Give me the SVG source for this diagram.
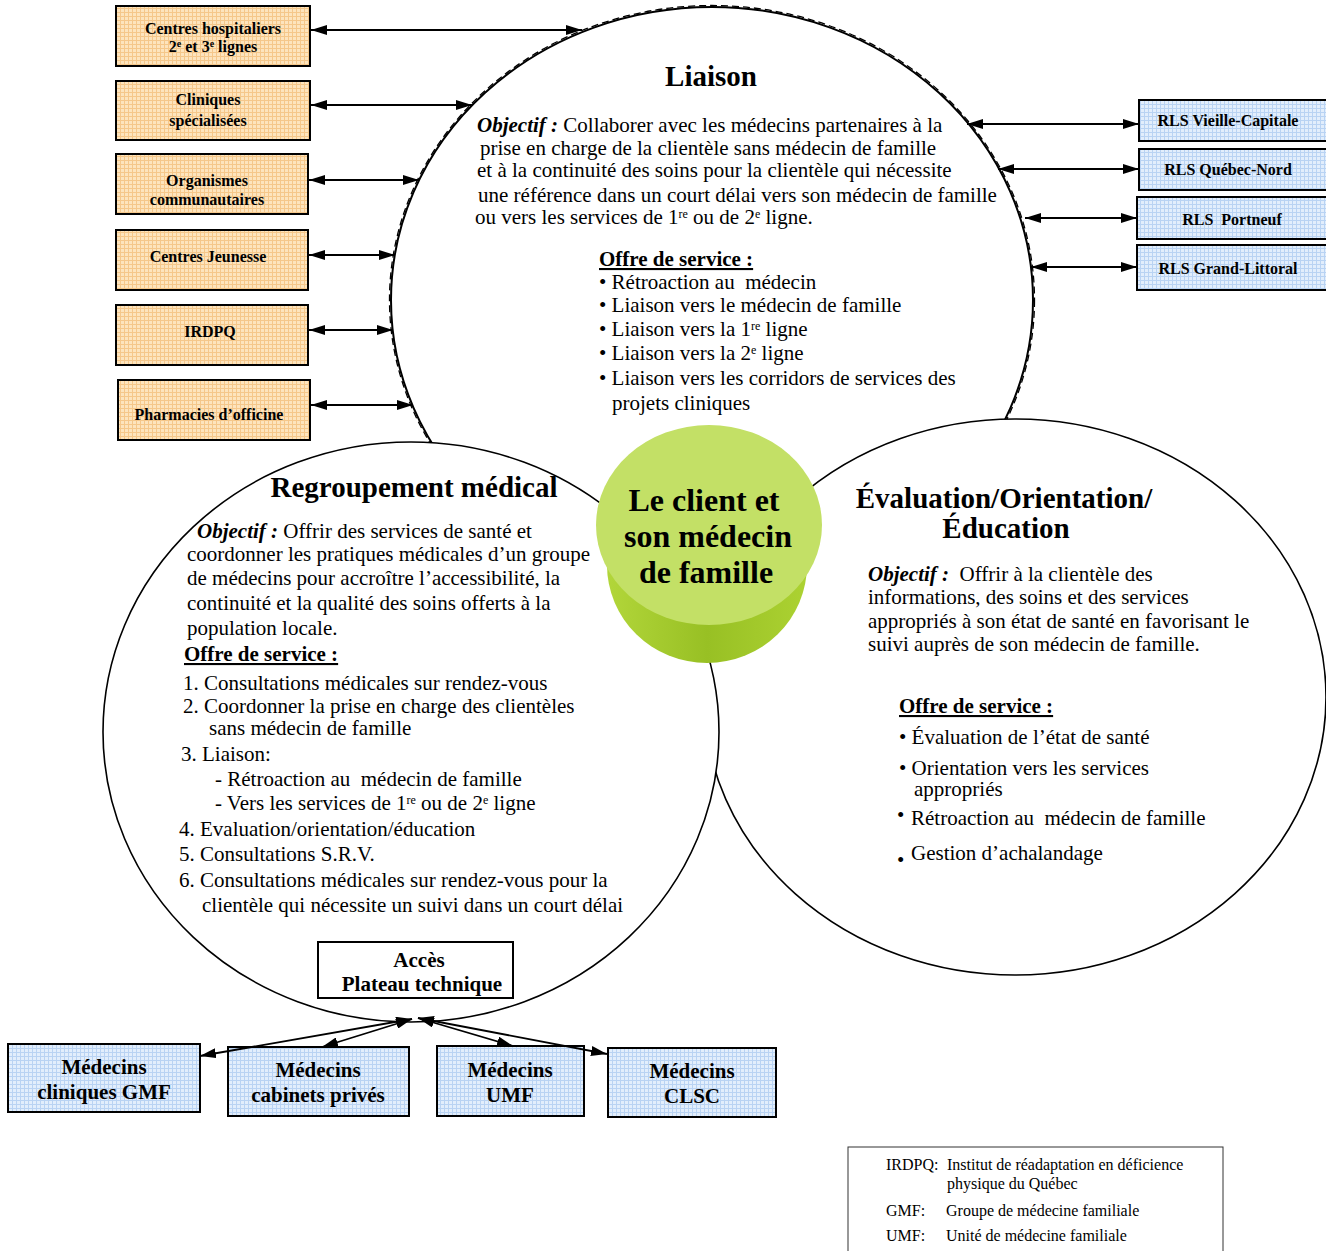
<svg xmlns="http://www.w3.org/2000/svg" width="1326" height="1251" viewBox="0 0 1326 1251">
<defs>
<pattern id="po" width="4" height="4" patternUnits="userSpaceOnUse"><rect width="4" height="4" fill="#fde4bd"/><path d="M0 0.5H4M0.5 0V4" stroke="#f5c78a" stroke-width="1"/></pattern>
<pattern id="pb" width="4" height="4" patternUnits="userSpaceOnUse"><rect width="4" height="4" fill="#e2eefc"/><path d="M0 0.5H4M0.5 0V4" stroke="#b9d3f3" stroke-width="1"/></pattern>
<linearGradient id="side" x1="0" y1="0" x2="1" y2="0"><stop offset="0" stop-color="#b2d63a"/><stop offset="0.5" stop-color="#98c024"/><stop offset="1" stop-color="#acd232"/></linearGradient>
<marker id="ah" viewBox="0 0 16 10" refX="16" refY="5" markerWidth="16" markerHeight="10" markerUnits="userSpaceOnUse" orient="auto-start-reverse"><path d="M0 0L16 5L0 10z" fill="#000"/></marker>
<style>
.t{font-family:"Liberation Serif","Times New Roman",serif;fill:#000}
.b{font-weight:bold}
.bx{font-family:"Liberation Serif","Times New Roman",serif;font-weight:bold;font-size:16px;text-anchor:middle}
.bb{font-family:"Liberation Serif","Times New Roman",serif;font-weight:bold;font-size:21px;text-anchor:middle}
.body{font-family:"Liberation Serif","Times New Roman",serif;font-size:21px}
.ob{font-weight:bold;font-style:italic}
.ul{font-weight:bold;text-decoration:underline}
.ob2{fill:url(#po);stroke:#000;stroke-width:2}
.bl2{fill:url(#pb);stroke:#000;stroke-width:2}
.cn{stroke:#000;stroke-width:1.8;fill:none;marker-start:url(#ah);marker-end:url(#ah)}
.lg{font-family:"Liberation Serif","Times New Roman",serif;font-size:16px}
</style>
</defs>
<rect width="1326" height="1251" fill="#fff"/>

<g id="liaison">
<ellipse cx="712" cy="300" rx="321" ry="293" fill="#fff" stroke="#000" stroke-width="2"/>
<ellipse cx="712" cy="300" rx="322.5" ry="294.5" fill="none" stroke="#000" stroke-width="1.3" stroke-dasharray="7 4"/>
<text class="t b" x="711" y="86" font-size="29" text-anchor="middle">Liaison</text>
<text class="body" x="477" y="132"><tspan class="ob">Objectif :</tspan> Collaborer avec les médecins partenaires à la</text>
<text class="body" x="480" y="155">prise en charge de la clientèle sans médecin de famille</text>
<text class="body" x="477" y="177">et à la continuité des soins pour la clientèle qui nécessite</text>
<text class="body" x="478" y="202">une référence dans un court délai vers son médecin de famille</text>
<text class="body" x="475" y="224">ou vers les services de 1<tspan font-size="12" dy="-6">re</tspan><tspan dy="6"> ou de 2</tspan><tspan font-size="12" dy="-6">e</tspan><tspan dy="6"> ligne.</tspan></text>
<text class="body ul" x="599" y="266">Offre de service :</text>
<text class="body" x="599" y="289">• Rétroaction au&#160; médecin</text>
<text class="body" x="599" y="312">• Liaison vers le médecin de famille</text>
<text class="body" x="599" y="336">• Liaison vers la 1<tspan font-size="12" dy="-6">re</tspan><tspan dy="6"> ligne</tspan></text>
<text class="body" x="599" y="360">• Liaison vers la 2<tspan font-size="12" dy="-6">e</tspan><tspan dy="6"> ligne</tspan></text>
<text class="body" x="599" y="385">• Liaison vers les corridors de services des</text>
<text class="body" x="612" y="410">projets cliniques</text>
</g>

<g id="evaluation">
<ellipse cx="1015" cy="697" rx="311" ry="278" fill="#fff" stroke="#000" stroke-width="1.6"/>
<text class="t b" x="1004" y="508" font-size="29" text-anchor="middle">Évaluation/Orientation/</text>
<text class="t b" x="1006" y="538" font-size="29" text-anchor="middle">Éducation</text>
<text class="body" x="868" y="581"><tspan class="ob">Objectif :</tspan>&#160; Offrir à la clientèle des</text>
<text class="body" x="868" y="604">informations, des soins et des services</text>
<text class="body" x="868" y="628">appropriés à son état de santé en favorisant le</text>
<text class="body" x="868" y="651">suivi auprès de son médecin de famille.</text>
<text class="body ul" x="899" y="713">Offre de service :</text>
<text class="body" x="899" y="744">• Évaluation de l’état de santé</text>
<text class="body" x="899" y="775">• Orientation vers les services<tspan x="914" dy="21">appropriés</tspan></text>
<text class="body" x="897" y="822">•</text>
<text class="body" x="911" y="825">Rétroaction au&#160; médecin de famille</text>
<text class="body" x="897" y="867">•</text>
<text class="body" x="911" y="860">Gestion d’achalandage</text>
</g>

<g id="regroupement">
<ellipse cx="411" cy="732" rx="308" ry="290" fill="#fff" stroke="#000" stroke-width="1.6"/>
<text class="t b" x="414" y="497" font-size="29" text-anchor="middle">Regroupement médical</text>
<text class="body" x="197" y="538"><tspan class="ob">Objectif :</tspan> Offrir des services de santé et</text>
<text class="body" x="187" y="561">coordonner les pratiques médicales d’un groupe</text>
<text class="body" x="187" y="585">de médecins pour accroître l’accessibilité, la</text>
<text class="body" x="187" y="610">continuité et la qualité des soins offerts à la</text>
<text class="body" x="187" y="635">population locale.</text>
<text class="body ul" x="184" y="661">Offre de service :</text>
<text class="body" x="183" y="690">1. Consultations médicales sur rendez-vous</text>
<text class="body" x="183" y="713">2. Coordonner la prise en charge des clientèles</text>
<text class="body" x="209" y="735">sans médecin de famille</text>
<text class="body" x="181" y="761">3. Liaison:</text>
<text class="body" x="215" y="786">- Rétroaction au&#160; médecin de famille</text>
<text class="body" x="215" y="810">- Vers les services de 1<tspan font-size="12" dy="-6">re</tspan><tspan dy="6"> ou de 2</tspan><tspan font-size="12" dy="-6">e</tspan><tspan dy="6"> ligne</tspan></text>
<text class="body" x="179" y="836">4. Evaluation/orientation/éducation</text>
<text class="body" x="179" y="861">5. Consultations S.R.V.</text>
<text class="body" x="179" y="887">6. Consultations médicales sur rendez-vous pour la</text>
<text class="body" x="202" y="912">clientèle qui nécessite un suivi dans un court délai</text>
</g>

<g id="client">
<ellipse cx="707" cy="565" rx="100" ry="98" fill="url(#side)"/>
<ellipse cx="709" cy="525" rx="113" ry="100" fill="#c3e066"/>
<text class="t b" x="704" y="511" font-size="32" text-anchor="middle">Le client et</text>
<text class="t b" x="708" y="547" font-size="32" text-anchor="middle">son médecin</text>
<text class="t b" x="706" y="583" font-size="32" text-anchor="middle">de famille</text>
</g>

<g id="acces">
<rect x="318" y="942" width="195" height="56" fill="#fff" stroke="#000" stroke-width="2"/>
<text class="bb" x="419" y="967" font-size="20">Accès</text>
<text class="bb" x="422" y="991" font-size="20">Plateau technique</text>
</g>

<g id="centres-hospitaliers"><rect class="ob2" x="116" y="6" width="194" height="60"/>
<text class="bx" x="213" y="34">Centres hospitaliers</text>
<text class="bx" x="213" y="52">2<tspan font-size="10" dy="-5">e</tspan><tspan dy="5"> et 3</tspan><tspan font-size="10" dy="-5">e</tspan><tspan dy="5"> lignes</tspan></text></g>
<g id="cliniques"><rect class="ob2" x="116" y="81" width="194" height="59"/>
<text class="bx" x="208" y="105">Cliniques</text><text class="bx" x="208" y="126">spécialisées</text></g>
<g id="organismes"><rect class="ob2" x="116" y="154" width="192" height="60"/>
<text class="bx" x="207" y="186">Organismes</text><text class="bx" x="207" y="205">communautaires</text></g>
<g id="centres-jeunesse"><rect class="ob2" x="116" y="230" width="192" height="60"/>
<text class="bx" x="208" y="262">Centres Jeunesse</text></g>
<g id="irdpq"><rect class="ob2" x="116" y="305" width="192" height="60"/>
<text class="bx" x="210" y="337">IRDPQ</text></g>
<g id="pharmacies"><rect class="ob2" x="118" y="380" width="192" height="60"/>
<text class="bx" x="209" y="420">Pharmacies d’officine</text></g>

<g id="rls-vieille-capitale"><rect class="bl2" x="1139" y="100" width="190" height="41"/>
<text class="bx" x="1228" y="126">RLS Vieille-Capitale</text></g>
<g id="rls-quebec-nord"><rect class="bl2" x="1139" y="149" width="190" height="41"/>
<text class="bx" x="1228" y="175">RLS Québec-Nord</text></g>
<g id="rls-portneuf"><rect class="bl2" x="1137" y="197" width="192" height="42"/>
<text class="bx" x="1232" y="225">RLS&#160; Portneuf</text></g>
<g id="rls-grand-littoral"><rect class="bl2" x="1137" y="245" width="192" height="45"/>
<text class="bx" x="1228" y="274">RLS Grand-Littoral</text></g>

<g id="medecins-gmf"><rect class="bl2" x="8" y="1044" width="192" height="68"/>
<text class="bb" x="104" y="1074">Médecins</text><text class="bb" x="104" y="1099">cliniques GMF</text></g>
<g id="medecins-prives"><rect class="bl2" x="228" y="1047" width="181" height="69"/>
<text class="bb" x="318" y="1077">Médecins</text><text class="bb" x="318" y="1102">cabinets privés</text></g>
<g id="medecins-umf"><rect class="bl2" x="437" y="1046" width="147" height="70"/>
<text class="bb" x="510" y="1077">Médecins</text><text class="bb" x="510" y="1102">UMF</text></g>
<g id="medecins-clsc"><rect class="bl2" x="608" y="1048" width="168" height="69"/>
<text class="bb" x="692" y="1078">Médecins</text><text class="bb" x="692" y="1103">CLSC</text></g>

<g id="legende">
<rect x="848" y="1147" width="375" height="110" fill="#fff" stroke="#333" stroke-width="1"/>
<text class="lg" x="886" y="1170">IRDPQ:</text><text class="lg" x="947" y="1170">Institut de réadaptation en déficience</text>
<text class="lg" x="947" y="1189">physique du Québec</text>
<text class="lg" x="886" y="1216">GMF:</text><text class="lg" x="946" y="1216">Groupe de médecine familiale</text>
<text class="lg" x="886" y="1241">UMF:</text><text class="lg" x="946" y="1241">Unité de médecine familiale</text>
</g>

<g id="connectors">
<line class="cn" x1="311" y1="30" x2="582" y2="30"/>
<line class="cn" x1="311" y1="105" x2="472" y2="105"/>
<line class="cn" x1="309" y1="180" x2="419" y2="180"/>
<line class="cn" x1="309" y1="255" x2="395" y2="255"/>
<line class="cn" x1="309" y1="330" x2="393" y2="330"/>
<line class="cn" x1="311" y1="405" x2="413" y2="405"/>
<line class="cn" x1="967" y1="124" x2="1139" y2="124"/>
<line class="cn" x1="998" y1="169" x2="1139" y2="169"/>
<line class="cn" x1="1025" y1="218" x2="1137" y2="218"/>
<line class="cn" x1="1031" y1="267" x2="1137" y2="267"/>
<line class="cn" x1="412" y1="1019" x2="200" y2="1056"/>
<line class="cn" x1="412" y1="1019" x2="322" y2="1047"/>
<line class="cn" x1="418" y1="1018" x2="513" y2="1046"/>
<line class="cn" x1="418" y1="1018" x2="607" y2="1054"/>
</g>
</svg>
